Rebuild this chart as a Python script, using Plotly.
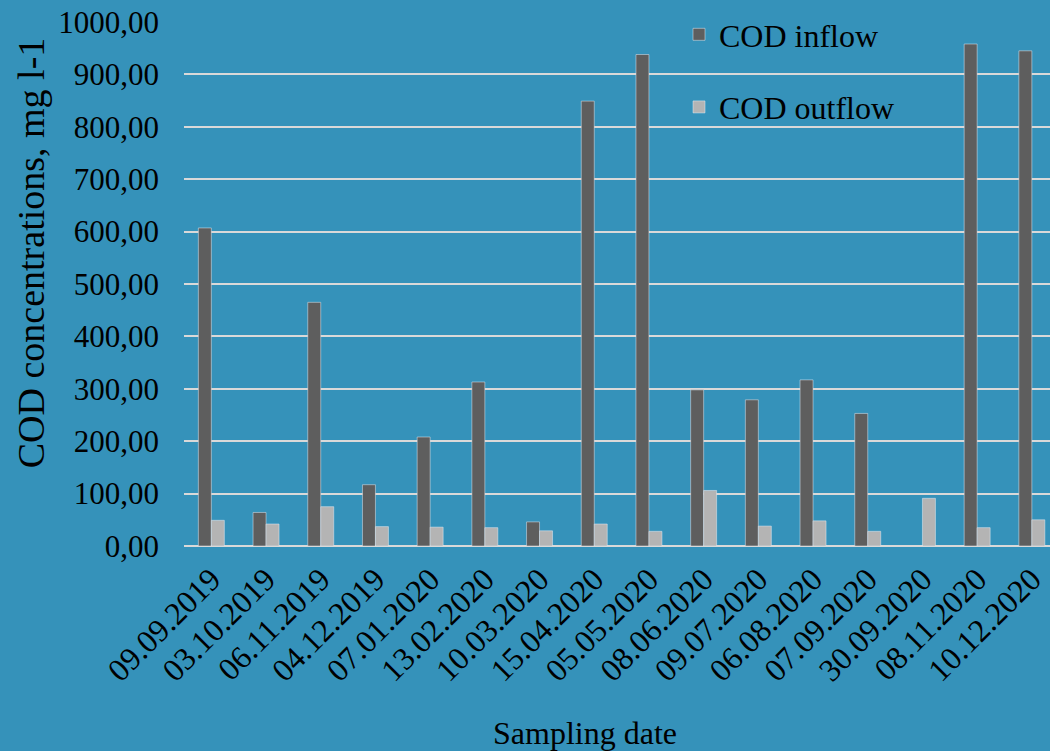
import plotly.graph_objects as go

# Sampling dates and COD concentrations (mg l-1)
dates = ["09.09.2019", "03.10.2019", "06.11.2019", "04.12.2019", "07.01.2020",
         "13.02.2020", "10.03.2020", "15.04.2020", "05.05.2020", "08.06.2020",
         "09.07.2020", "06.08.2020", "07.09.2020", "30.09.2020", "08.11.2020",
         "10.12.2020"]
cod_inflow = [607, 64, 465, 117, 208, 313, 46, 849, 938, 298,
              279, 317, 253, None, 958, 945]
cod_outflow = [49, 42, 75, 37, 36, 35, 29, 42, 28, 106,
               38, 48, 28, 91, 35, 50]
y_ticks = [0, 100, 200, 300, 400, 500, 600, 700, 800, 900, 1000]

BG = "#3592BA"
FONT = "Liberation Serif"

W, H = 1050, 751
L, R, T, B = 184, 0, 22, 204.5
pw, ph = W - L - R, H - T - B
step = 54.7  # pixels per category


def px_x(x):
    return (x - L) / pw


def px_y(y):
    return (H - B - y) / ph


def serif(size):
    return dict(family=FONT, size=size, color="#000000")


fig = go.Figure()
fig.add_trace(go.Bar(x=dates, y=cod_inflow, name="COD inflow",
                     marker=dict(color="#5E5E5E"), legendgroup="a"))
fig.add_trace(go.Bar(x=dates, y=cod_outflow, name="COD outflow",
                     marker=dict(color="#B4B4B4"), legendgroup="b"))

fig.update_layout(
    width=W, height=H,
    margin=dict(l=L, r=R, t=T, b=B, pad=0),
    paper_bgcolor=BG, plot_bgcolor=BG,
    barmode="group", bargap=0.525, bargroupgap=0,
    separators=", ",
    font=serif(30),
    showlegend=True,
    legend=dict(x=px_x(679), y=px_y(7), xanchor="left", yanchor="top",
                bgcolor="rgba(0,0,0,0)", font=serif(32),
                traceorder="grouped", tracegroupgap=28),
    xaxis=dict(type="category", range=[-0.5, -0.5 + pw / step],
               tickangle=-45, showgrid=False, zeroline=False,
               showline=False, ticks="", tickfont=serif(32),
               ticklabelstandoff=7),
    yaxis=dict(range=[0, 1000], tickvals=y_ticks, tickformat=".2f",
               showgrid=True, gridcolor="#D9D9D9", gridwidth=1.5,
               zeroline=True, zerolinecolor="#D9D9D9", zerolinewidth=2,
               showline=False, ticks="", tickfont=serif(31),
               ticklabelstandoff=24),
    annotations=[
        dict(text="COD concentrations, mg l-1", textangle=-90,
             x=px_x(31), y=px_y(253.5), xref="paper", yref="paper",
             xanchor="center", yanchor="middle", showarrow=False,
             font=serif(38)),
        dict(text="Sampling date",
             x=px_x(584.5), y=px_y(734), xref="paper", yref="paper",
             xanchor="center", yanchor="middle", showarrow=False,
             font=serif(32)),
    ],
)

fig.write_html("out.html")
